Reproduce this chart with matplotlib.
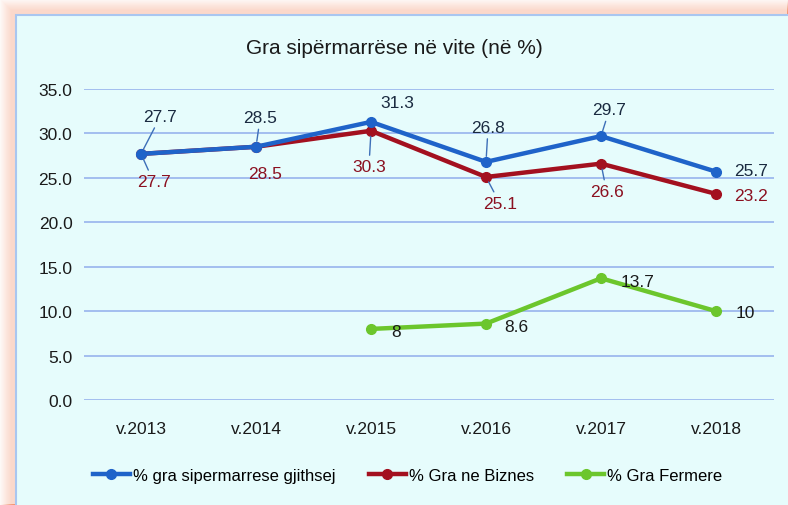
import numpy as np
import matplotlib
matplotlib.use("Agg")
import matplotlib.pyplot as plt
from matplotlib.patches import Rectangle

plt.rcParams['font.family'] = ['Liberation Sans Narrow', 'Liberation Sans', 'DejaVu Sans']

# data
years = ["v.2013", "v.2014", "v.2015", "v.2016", "v.2017", "v.2018"]
total = [27.7, 28.5, 31.3, 26.8, 29.7, 25.7]
biznes = [27.7, 28.5, 30.3, 25.1, 26.6, 23.2]
fermere = [np.nan, np.nan, 8, 8.6, 13.7, 10]
fermere_labels = ["", "", "8", "8.6", "13.7", "10"]

bg = "#E6FCFC"
blue = "#1F63C9"
red = "#A3101F"
green = "#6CC62C"

fig = plt.figure(figsize=(7.88, 5.06), dpi=100)
fig.patch.set_facecolor("white")

# orange glow along left and top edges
W, H = 788, 506
for i in range(16):
    a = 0.05 + 0.04 * i
    fig.add_artist(Rectangle((i / W, 0), 1 - i / W, 1 - i / H,
                             transform=fig.transFigure, facecolor="none",
                             edgecolor="#F4845A", alpha=min(a, 0.5) * 0.4,
                             linewidth=1.2, zorder=0))
fig.add_artist(Rectangle((16 / W, -0.01), 1, 1 - 16 / H + 0.01,
                         transform=fig.transFigure, facecolor=bg,
                         edgecolor="#A9C6F0", linewidth=1.5, zorder=0.5))

ax = fig.add_axes([0.106, 0.2075, 0.8756, 0.6146])
ax.set_zorder(2)
ax.set_facecolor("none")
x = np.arange(len(years))

ax.plot(x, total, color=blue, lw=3.2, marker="o", ms=7, zorder=4,
        label="% gra sipermarrese gjithsej")
ax.plot(x, biznes, color=red, lw=3.2, marker="o", ms=7, zorder=3,
        label="% Gra ne Biznes")
ax.plot(x, fermere, color=green, lw=3.2, marker="o", ms=7, zorder=3,
        label="% Gra Fermere")

ax.set_xlim(-0.5, len(years) - 0.5)
ax.set_ylim(0, 35)
ax.set_yticks(np.arange(0, 36, 5))
ax.set_yticklabels([f"{v:.1f}" for v in np.arange(0, 36, 5)])
ax.set_xticks(x)
ax.set_xticklabels(years)
ax.tick_params(length=0, labelsize=12.5, colors="#1a1a1a", pad=8)
ax.tick_params(axis="x", pad=15)
ax.grid(axis="y", color="#9DB9EE", lw=1.3)
ax.set_axisbelow(True)
for s in ax.spines.values():
    s.set_visible(False)

# label offsets in points (dx, dy) and whether to draw a leader line
blue_off = [(14, 27, True), (3, 21, True), (19, 14, False),
            (1.5, 25, True), (6, 19, True), (25, 1, False)]
red_off = [(9, -20, True), (6.5, -19, False), (-1.5, -26, True),
           (10, -19, True), (4, -20, True), (25, -1, False)]
green_off = [None, None, (18, -2), (22, -2), (26, -2), (21, -1)]

leader = dict(arrowstyle="-", color="#3D6FB8", lw=1, shrinkA=1, shrinkB=4)

for i in range(len(years)):
    dx, dy, lead = blue_off[i]
    ax.annotate(f"{total[i]}", (x[i], total[i]), xytext=(dx, dy),
                textcoords="offset points", ha="center", va="center",
                fontsize=12.5, color="#1a2a40", zorder=6,
                arrowprops=leader if lead else None)
    dx, dy, lead = red_off[i]
    ax.annotate(f"{biznes[i]}", (x[i], biznes[i]), xytext=(dx, dy),
                textcoords="offset points", ha="center", va="center",
                fontsize=12.5, color="#8B1020", zorder=6,
                arrowprops=leader if lead else None)
    if green_off[i] is not None:
        dx, dy = green_off[i]
        ax.annotate(fermere_labels[i], (x[i], fermere[i]), xytext=(dx, dy),
                    textcoords="offset points", ha="center", va="center",
                    fontsize=12.5, color="#1a1a1a", zorder=6)

fig.text(0.5, 0.905, "Gra sipërmarrëse në vite (në %)", ha="center",
         va="center", fontsize=15, color="#1a1a1a", zorder=3)

ax.legend(loc="upper center", bbox_to_anchor=(0.47, -0.17), ncol=3,
          frameon=False, fontsize=12, handlelength=2.2, handletextpad=0.2,
          columnspacing=2.0)

fig.savefig("out.png", dpi=100, facecolor=fig.get_facecolor())
